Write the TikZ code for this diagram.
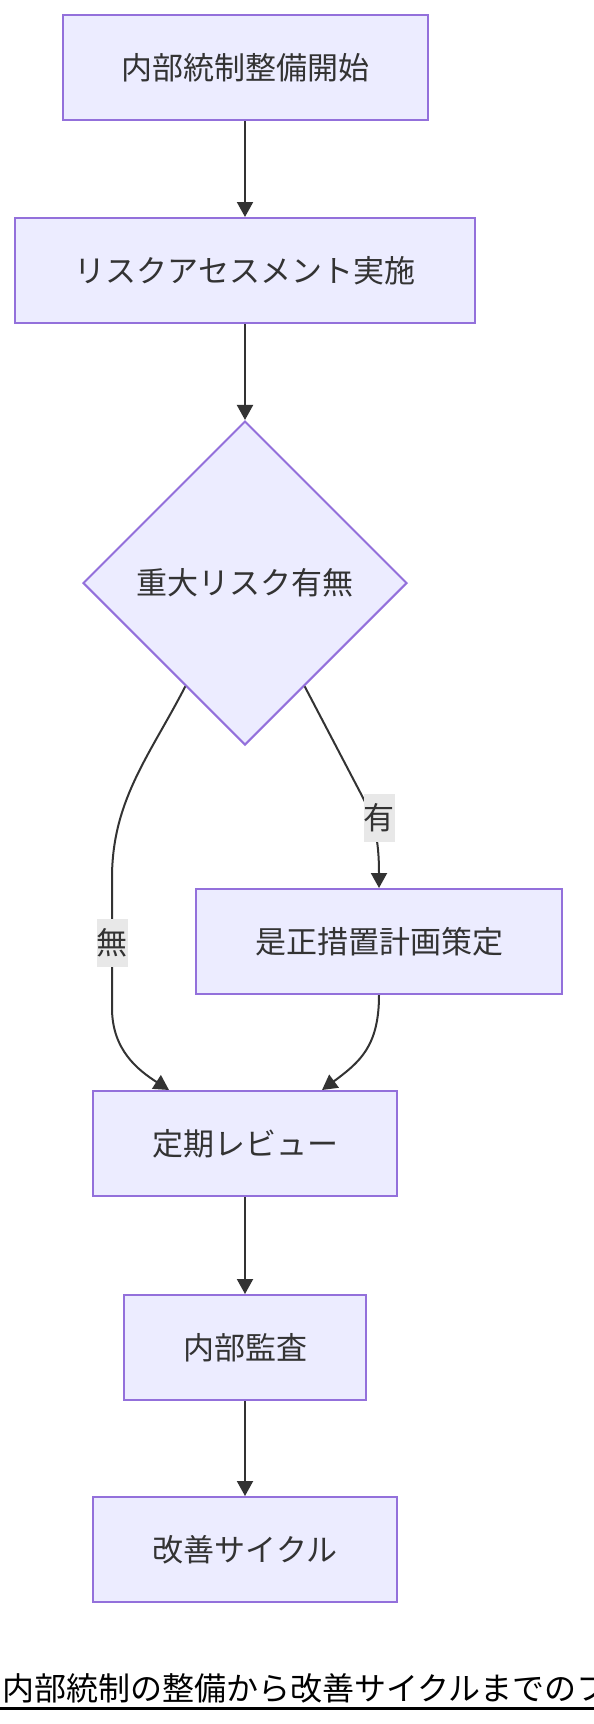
\documentclass[tikz,border=0pt]{standalone}
\usepackage{fontspec}
\setmainfont{Noto Sans CJK JP}
\usetikzlibrary{shapes.geometric,arrows.meta}

\definecolor{boxfill}{HTML}{ECECFF}
\definecolor{boxline}{HTML}{9370DB}
\definecolor{ink}{HTML}{333333}
\definecolor{lblfill}{HTML}{E8E8E8}

\tikzset{
	box/.style={rectangle, draw=boxline, fill=boxfill, line width=2pt, text=ink,
		minimum height=105pt, inner sep=0pt, font=\fontsize{31}{37}\selectfont},
	judge/.style={diamond, draw=boxline, fill=boxfill, line width=2pt, text=ink,
		minimum width=324pt, minimum height=324pt, inner sep=0pt, font=\fontsize{31}{37}\selectfont},
	lbl/.style={fill=lblfill, text=ink, inner xsep=0pt, inner ysep=0pt,
		minimum height=48pt, font=\fontsize{31}{37}\selectfont},
	edge/.style={draw=ink, line width=2pt, -{Triangle[length=15pt,width=16pt]}}
}

\begin{document}
\begin{tikzpicture}[x=1pt, y=-1pt]
		\useasboundingbox (0, 0) rectangle (594, 1724);
		\clip (0, 0) rectangle (594, 1724);

		\node[box, minimum width=365pt] (A) at (245, 67.5) {内部統制整備開始};
		\node[box, minimum width=460pt] (B) at (245, 270.5) {リスクアセスメント実施};
		\node[judge] (C) at (245, 583) {重大リスク有無};
		\node[box, minimum width=366pt] (D) at (379, 941.5) {是正措置計画策定};
		\node[box, minimum width=304pt] (E) at (245, 1143.5) {定期レビュー};
		\node[box, minimum width=242pt] (F) at (245, 1347.5) {内部監査};
		\node[box, minimum width=304pt] (G) at (245, 1549.5) {改善サイクル};

		\draw[edge] (A) -- (B);
		\draw[edge] (B) -- (C);
		% 有の枝
		\draw[edge] (C.-60) -- (360, 792) .. controls (374, 818) and (379, 838) .. (D.north);
		% 無の枝
		\draw[edge] (C.-120) .. controls (150, 755) and (112, 800) .. (112, 878)
			-- node[lbl] (N) {無} (112, 1008)
			.. controls (112, 1050) and (138, 1070) .. ([xshift=-76pt]E.north);
		\draw[edge] (D.south) .. controls (379, 1046) and (360, 1062) .. ([xshift=77pt]E.north);
		\draw[edge] (E) -- (F);
		\draw[edge] (F) -- (G);

		\node[lbl] (Y) at (379, 818) {有};

		% 下の見出し
		\node[anchor=base west, inner sep=0pt, font=\fontsize{32}{38}\selectfont] (T) at (2, 1700) {内部統制の整備から改善サイクルまでのフロー};
		\draw[line width=2.5pt] (0, 1708.5) -- (594, 1708.5);
	\end{tikzpicture}
\end{document}
